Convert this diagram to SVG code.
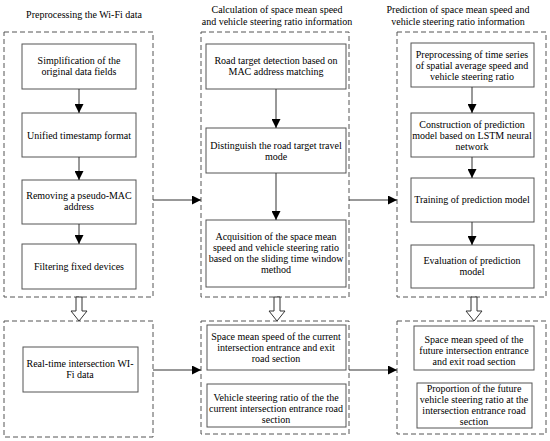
<svg xmlns="http://www.w3.org/2000/svg" width="550" height="441" viewBox="0 0 550 441" font-family="'Liberation Serif', 'Times New Roman', 'DejaVu Serif', serif">
<defs>
<marker id="ah" markerUnits="userSpaceOnUse" markerWidth="9" markerHeight="9" refX="9" refY="4.5" orient="auto">
<path d="M0,0 L9,4.5 L0,9 z" fill="#000"/>
</marker>
</defs>
<style>
text{font-family:'Liberation Serif','Times New Roman','DejaVu Serif',serif;font-size:10px;fill:#000;text-anchor:middle}
.dash{fill:none;stroke:#555;stroke-width:1;stroke-dasharray:5,3}
.box{fill:#fff;stroke:#555;stroke-width:1}
.ln{fill:none;stroke:#333;stroke-width:1;marker-end:url(#ah)}
.hol{fill:#fff;stroke:#333;stroke-width:1}
</style>
<rect width="550" height="441" fill="#fff"/>
<g id="titles">
<text x="84" y="18">Preprocessing the Wi-Fi data</text>
<text x="277" y="13">Calculation of space mean speed</text>
<text x="277" y="25">and vehicle steering ratio information</text>
<text x="458" y="13">Prediction of space mean speed and</text>
<text x="458" y="25">vehicle steering ratio information</text>
</g>
<g id="group-left-top"><rect class="dash" x="4" y="32" width="149" height="265"/></g>
<g id="group-mid-top"><rect class="dash" x="201" y="32" width="148" height="265"/></g>
<g id="group-right-top"><rect class="dash" x="397" y="32" width="149" height="265"/></g>
<g id="group-left-bot"><rect class="dash" x="4" y="321" width="149" height="116"/></g>
<g id="group-mid-bot"><rect class="dash" x="201" y="321" width="148" height="113"/></g>
<g id="group-right-bot"><rect class="dash" x="397" y="321" width="149" height="113"/></g>

<g id="n1"><rect class="box" x="22" y="44" width="114" height="45"/><text x="79" y="64">Simplification of the</text><text x="79" y="75">original data fields</text></g>
<g id="n2"><rect class="box" x="22" y="113" width="114" height="44"/><text x="79" y="139">Unified timestamp format</text></g>
<g id="n3"><rect class="box" x="22" y="180" width="114" height="44"/><text x="79" y="199">Removing a pseudo-MAC</text><text x="79" y="210">address</text></g>
<g id="n4"><rect class="box" x="22" y="244" width="114" height="45"/><text x="79" y="270">Filtering fixed devices</text></g>

<g id="n5"><rect class="box" x="206" y="44" width="140" height="45"/><text x="276" y="64">Road target detection based on</text><text x="276" y="75">MAC address matching</text></g>
<g id="n6"><rect class="box" x="206" y="128" width="140" height="45"/><text x="276" y="149">Distinguish the road target travel</text><text x="276" y="160">mode</text></g>
<g id="n7"><rect class="box" x="206" y="220" width="140" height="67"/><text x="276" y="240">Acquisition of the space mean</text><text x="276" y="251">speed and vehicle steering ratio</text><text x="276" y="262">based on the sliding time window</text><text x="276" y="273">method</text></g>

<g id="n8"><rect class="box" x="411" y="43" width="123" height="44"/><text x="472" y="58">Preprocessing of time series</text><text x="472" y="69">of spatial average speed and</text><text x="472" y="80">vehicle steering ratio</text></g>
<g id="n9"><rect class="box" x="411" y="113" width="123" height="44"/><text x="472" y="128">Construction of prediction</text><text x="472" y="139">model based on LSTM neural</text><text x="472" y="150">network</text></g>
<g id="n10"><rect class="box" x="411" y="178" width="123" height="44"/><text x="472" y="203">Training of prediction model</text></g>
<g id="n11"><rect class="box" x="411" y="245" width="123" height="43"/><text x="472" y="264">Evaluation of prediction</text><text x="472" y="275">model</text></g>

<g id="n12"><rect class="box" x="23" y="347" width="115" height="45"/><text x="80" y="367">Real-time intersection WI-</text><text x="80" y="378">Fi data</text></g>

<g id="n13"><rect class="box" x="207" y="325" width="139" height="45"/><text x="276" y="340">Space mean speed of the current</text><text x="276" y="351">intersection entrance and exit</text><text x="276" y="362">road section</text></g>
<g id="n14"><rect class="box" x="207" y="384" width="139" height="43"/><text x="276" y="401">Vehicle steering ratio of the the</text><text x="276" y="412">current intersection entrance road</text><text x="276" y="423">section</text></g>

<g id="n15"><rect class="box" x="414" y="326" width="120" height="44"/><text x="474" y="343">Space mean speed of the</text><text x="474" y="354">future intersection entrance</text><text x="474" y="365">and exit road section</text></g>
<g id="n16"><rect class="box" x="417" y="383" width="115" height="45"/><text x="474" y="392">Proportion of the future</text><text x="474" y="403">vehicle steering ratio at the</text><text x="474" y="414">intersection entrance road</text><text x="474" y="425">section</text></g>

<g id="connectors">
<line class="ln" x1="79" y1="89" x2="79" y2="113"/>
<line class="ln" x1="79" y1="157" x2="79" y2="180"/>
<line class="ln" x1="79" y1="224" x2="79" y2="244"/>
<line class="ln" x1="276" y1="89" x2="276" y2="128"/>
<line class="ln" x1="276" y1="173" x2="276" y2="220"/>
<line class="ln" x1="472" y1="87" x2="472" y2="113"/>
<line class="ln" x1="472" y1="157" x2="472" y2="178"/>
<line class="ln" x1="472" y1="222" x2="472" y2="245"/>
<line class="ln" x1="153" y1="200" x2="201" y2="200"/>
<line class="ln" x1="349" y1="200" x2="397" y2="200"/>
<line class="ln" x1="153" y1="370" x2="201" y2="370"/>
<line class="ln" x1="349" y1="370" x2="397" y2="370"/>
<polygon class="hol" points="76,297 82,297 82,311 87,311 79,321 71,311 76,311"/>
<polygon class="hol" points="274,297 280,297 280,311 285,311 277,321 269,311 274,311"/>
<polygon class="hol" points="471,297 477,297 477,311 482,311 474,321 466,311 471,311"/>
</g>
</svg>
